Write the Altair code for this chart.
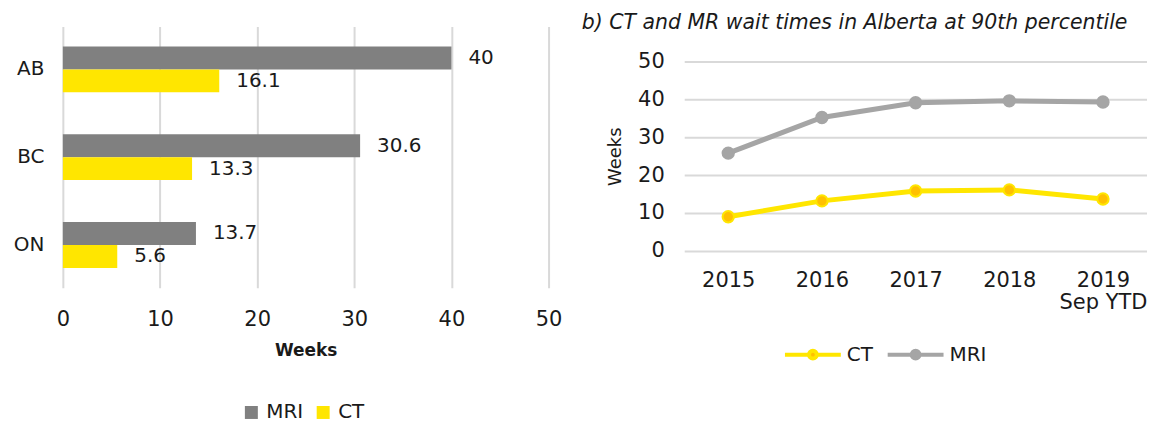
import altair as alt
import pandas as pd

# ---------------- data ----------------
provinces = ["AB", "BC", "ON"]
bar_modalities = ["MRI", "CT"]
mri_by_province = [40, 30.6, 13.7]
ct_by_province = [16.1, 13.3, 5.6]

years = ["2015", "2016", "2017", "2018", "2019\nSep YTD"]
line_series = ["CT", "MRI"]
ct_alberta = [9.0, 13.2, 15.8, 16.1, 13.7]
mri_alberta = [25.8, 35.2, 39.1, 39.6, 39.3]

x_ticks = [0, 10, 20, 30, 40, 50]

# ---------------- style ----------------
FONT = "DejaVu Sans"
TXT = "#1a1a1a"
MRI_BAR = "#808080"
YELLOW = "#FFE600"
CT_MARK = "#FFC000"
MRI_LINE = "#A5A5A5"
GRID = "#D9D9D9"

bar_df = pd.DataFrame({
    "province": provinces * 2,
    "modality": ["MRI"] * len(provinces) + ["CT"] * len(provinces),
    "weeks": mri_by_province + ct_by_province,
})

line_df = pd.DataFrame({
    "year": years * 2,
    "series": ["CT"] * len(years) + ["MRI"] * len(years),
    "weeks": ct_alberta + mri_alberta,
})

# ---------------- left: horizontal grouped bars ----------------
y_enc = alt.Y(
    "province:N", sort=provinces,
    scale=alt.Scale(paddingInner=0.477, paddingOuter=0.227),
    axis=alt.Axis(title=None, domain=False, ticks=False, grid=False,
                  labelFont=FONT, labelFontSize=20, labelColor=TXT,
                  labelPadding=19),
)
yoff_enc = alt.YOffset("modality:N", sort=bar_modalities,
                       scale=alt.Scale(paddingInner=0, paddingOuter=0))
x_enc = alt.X(
    "weeks:Q",
    scale=alt.Scale(domain=[0, 50], nice=False),
    axis=alt.Axis(values=x_ticks, title="Weeks", grid=True, gridColor=GRID,
                  gridWidth=2, domain=False, ticks=False, labelFlush=False,
                  labelFont=FONT, labelFontSize=21, labelColor=TXT,
                  labelPadding=21, titleFont=FONT, titleFontSize=17,
                  titleFontWeight="bold", titleColor=TXT, titlePadding=13),
)

bars = alt.Chart(bar_df).mark_bar().encode(
    y=y_enc, yOffset=yoff_enc, x=x_enc,
    color=alt.Color(
        "modality:N", sort=bar_modalities,
        scale=alt.Scale(domain=bar_modalities, range=[MRI_BAR, YELLOW]),
        legend=alt.Legend(title=None, orient="none", legendX=179, legendY=377,
                          direction="horizontal", symbolType="square",
                          symbolSize=169, symbolStrokeWidth=0,
                          labelFont=FONT, labelFontSize=20, labelColor=TXT,
                          labelOffset=5, columnPadding=9, padding=0),
    ),
)
bar_labels = alt.Chart(bar_df).mark_text(
    align="left", baseline="middle", dx=17, font=FONT, fontSize=20, color=TXT
).encode(
    y=y_enc, yOffset=yoff_enc, x=x_enc,
    text=alt.Text("weeks:Q", format="~g"),
)

left = alt.layer(bars, bar_labels).properties(width=487, height=262)

# ---------------- right: line chart ----------------
PATH = ("M-1,0L-0.14,0M0.14,0L1,0"
        "M0.14,0A0.14,0.14,0,1,1,-0.14,0A0.14,0.14,0,1,1,0.14,0Z")

legend_r = alt.Legend(title=None, orient="none", legendX=99, legendY=299,
                      direction="horizontal", symbolType=PATH,
                      symbolSize=3136, symbolStrokeWidth=4,
                      labelFont=FONT, labelFontSize=20, labelColor=TXT,
                      labelOffset=4, columnPadding=6, padding=0)

x_r = alt.X(
    "year:N", sort=years,
    scale=alt.Scale(type="point", padding=0.47),
    axis=alt.Axis(title=None, labelAngle=0,
                  labelExpr="split(datum.label, '\\n')",
                  domain=False, ticks=False, grid=False,
                  labelFont=FONT, labelFontSize=21, labelColor=TXT,
                  labelLineHeight=22, labelPadding=19),
)
# plot area extends above the top gridline (50) to line up with the left panel
y_r = alt.Y(
    "weeks:Q",
    scale=alt.Scale(domain=[0, 59.21], nice=False),
    axis=alt.Axis(values=x_ticks, title="Weeks", grid=True, gridColor=GRID,
                  gridWidth=2, domain=False, ticks=False, labelFlush=False,
                  labelFont=FONT, labelFontSize=21, labelColor=TXT,
                  labelPadding=20, titleFont=FONT, titleFontSize=18,
                  titleFontWeight="normal", titleColor=TXT, titlePadding=13,
                  titleY=130),
)

stroke_scale = alt.Scale(domain=line_series, range=[YELLOW, MRI_LINE])
fill_scale = alt.Scale(domain=line_series, range=[CT_MARK, MRI_LINE])

lines = alt.Chart(line_df).mark_line(strokeWidth=5).encode(
    x=x_r, y=y_r,
    stroke=alt.Stroke("series:N", sort=line_series, scale=stroke_scale,
                      legend=legend_r),
)
points = alt.Chart(line_df).mark_point(
    filled=True, size=130, strokeWidth=2, opacity=1
).encode(
    x=x_r, y=y_r,
    fill=alt.Fill("series:N", sort=line_series, scale=fill_scale,
                  legend=legend_r),
    stroke=alt.Stroke("series:N", sort=line_series, scale=stroke_scale,
                      legend=legend_r),
)

right = alt.layer(lines, points).properties(
    width=464, height=225,
    title=alt.TitleParams(
        "b) CT and MR wait times in Alberta at 90th percentile",
        anchor="start", font=FONT, fontSize=20.5, fontStyle="italic",
        fontWeight="normal", color=TXT, offset=-7, dx=-25,
    ),
)

chart = alt.hconcat(left, right, spacing=19).resolve_scale(
    color="independent", fill="independent", stroke="independent"
).resolve_legend(
    color="independent", fill="independent", stroke="independent"
).properties(
    padding={"left": 5, "top": 4, "right": 0, "bottom": 0}
).configure_view(stroke=None)

chart.save("out.html", embed_options={"renderer": "svg", "actions": False})
